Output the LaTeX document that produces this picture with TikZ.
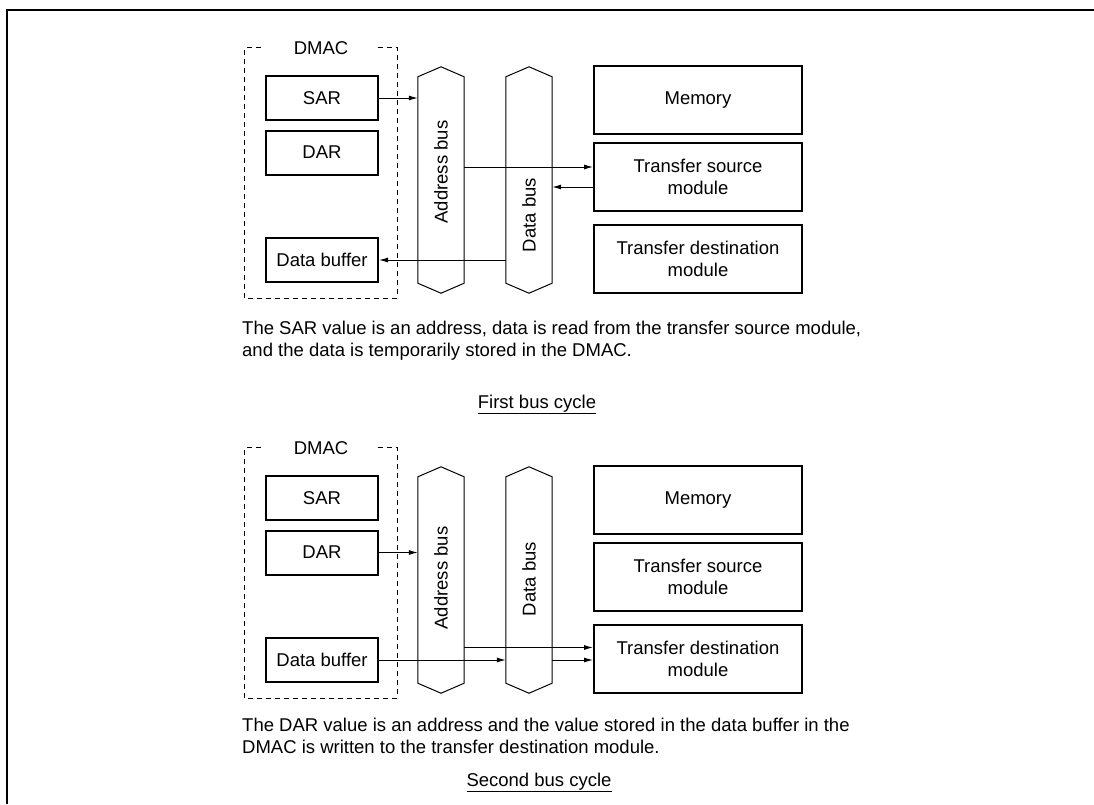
\documentclass[tikz,border=0pt]{standalone}
\usepackage{fontspec}
\setmainfont{Liberation Sans}
\usetikzlibrary{arrows.meta}

\begin{document}
\begin{tikzpicture}[
  x=1pt, y=-1pt,
  font=\fontsize{18.5}{22}\selectfont,
  reg/.style={draw, line width=2pt, minimum width=112pt, minimum height=44pt, inner sep=0pt},
  module/.style={draw, line width=2pt, minimum width=208pt, minimum height=68pt,
    inner sep=0pt, align=center},
  bus/.style={minimum width=46pt, minimum height=206pt, inner sep=0pt},
  busline/.style={line width=1pt, line join=miter},
  buslabel/.style={rotate=90, inner sep=0pt},
  dmacarea/.style={minimum width=152pt, minimum height=250pt, inner sep=0pt},
  dmacname/.style={minimum width=113pt, inner sep=0pt},
  dmacline/.style={line width=1pt, dash pattern=on 5pt off 4pt},
  arrow/.style={-{Latex[length=9pt,width=5pt]}, line width=1pt},
  caption/.style={anchor=west, align=left, inner sep=0pt},
  cyclename/.style={anchor=base, inner sep=0pt}
]
\useasboundingbox (0,0) rectangle (1094,804);
% page frame, only top and left edges show
\draw[line width=2pt] (7,804) -- (7,10) -- (1094,10);

% first bus cycle: read from the transfer source module
\node[dmacarea] (dmac1) at (321,173) {};
\node[dmacname] (dmacname1) at (dmac1.north) {DMAC};
\node[reg] (sar1) at (322,98) {SAR};
\node[reg] (dar1) at (322,152.5) {DAR};
\node[reg] (buf1) at (322,260) {Data buffer};
\node[bus] (abus1) at (441,180) {};
\node[bus] (dbus1) at (529,180) {};
\node[buslabel] (abuslabel1) at (441,172) {Address bus};
\node[buslabel] (dbuslabel1) at (529,215) {Data bus};
\node[module] (mem1) at (698,100) {Memory};
\node[module] (src1) at (698,177) {Transfer source\\module};
\node[module] (dst1) at (698,258.5) {Transfer destination\\module};
\coordinate (srcin1) at ([yshift=10pt]src1.west);
\coordinate (srcout1) at ([yshift=-10pt]src1.west);

\draw[arrow] (sar1.east) -- (sar1.east -| abus1.west);
\draw[arrow] (abus1.east |- srcin1) -- (srcin1);
\draw[arrow] (srcout1) -- (srcout1 -| dbus1.east);
\draw[arrow] (dbus1.west |- buf1.east) -- (buf1.east);

\node[caption] (text1) at (242,341) {The SAR value is an address, data is read from the transfer source module,\\and the data is temporarily stored in the DMAC.};
\node[cyclename] (cycle1) at (537,408) {\underline{First bus cycle}};

% second bus cycle: write to the transfer destination module
\node[dmacarea] (dmac2) at (321,573) {};
\node[dmacname] (dmacname2) at (dmac2.north) {DMAC};
\node[reg] (sar2) at (322,498) {SAR};
\node[reg] (dar2) at (322,552.5) {DAR};
\node[reg] (buf2) at (322,660) {Data buffer};
\node[bus] (abus2) at (441,580) {};
\node[bus] (dbus2) at (529,580) {};
\node[buslabel] (abuslabel2) at (441,578) {Address bus};
\node[buslabel] (dbuslabel2) at (529,579) {Data bus};
\node[module] (mem2) at (698,500) {Memory};
\node[module] (src2) at (698,576.5) {Transfer source\\module};
\node[module] (dst2) at (698,658.5) {Transfer destination\\module};
\coordinate (dstin2) at ([yshift=11pt]dst2.west);

\draw[arrow] (dar2.east) -- (dar2.east -| abus2.west);
\draw[arrow] (abus2.east |- dstin2) -- (dstin2);
\draw[arrow] (buf2.east) -- (buf2.east -| dbus2.west);
\draw[arrow] (dbus2.east |- buf2.east) -- (buf2.east -| dst2.west);

\node[caption] (text2) at (242,736) {The DAR value is an address and the value stored in the data buffer in the\\DMAC is written to the transfer destination module.};
\node[cyclename] (cycle2) at (539,786) {\underline{Second bus cycle}};

% bus outlines with pointed ends
\foreach \b in {abus1,dbus1,abus2,dbus2}
  \draw[busline] (\b.south west) -- (\b.north west) -- ([yshift=10pt]\b.north)
    -- (\b.north east) -- (\b.south east) -- ([yshift=-10pt]\b.south) -- cycle;

% DMAC outline, broken for its name
\draw[dmacline] (dmacname1.east) -| (dmac1.south east) -| (dmac1.north west) -- (dmacname1.west);
\draw[dmacline] (dmacname2.east) -| (dmac2.south east) -| (dmac2.north west) -- (dmacname2.west);
\end{tikzpicture}
\end{document}
